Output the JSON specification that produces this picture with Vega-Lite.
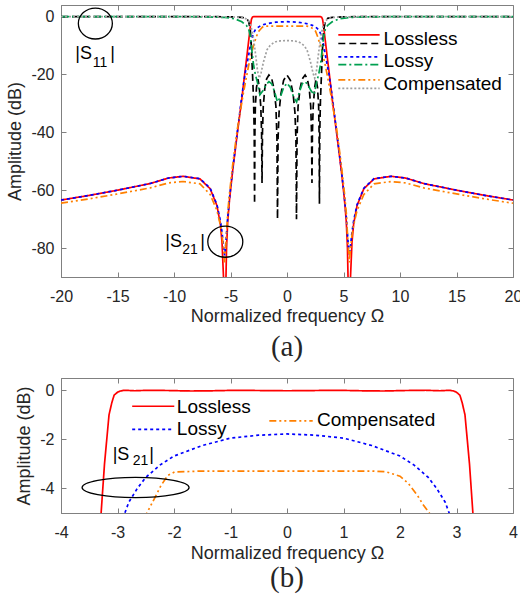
{
"$schema": "https://vega.github.io/schema/vega-lite/v6.json",
"background": "white",
"padding": {"left": 6, "top": 4, "right": 0, "bottom": 0},
"bounds": "flush",
"spacing": 101,
"config": {
  "view": {"stroke": "#808080", "strokeWidth": 1},
  "font": "Liberation Sans",
  "axis": {"grid": false, "domainColor": "#808080", "tickColor": "#808080", "labelColor": "#262626", "titleColor": "#262626", "labelFont": "Liberation Sans", "titleFont": "Liberation Sans", "labelFontSize": 16, "titleFontSize": 18, "titleFontWeight": "normal", "tickSize": -5, "labelFlush": false, "labelOverlap": false},
  "title": {"font": "Liberation Serif", "fontSize": 29, "fontWeight": "normal", "color": "#262626"}
},
"datasets": {
  "s21": [
    {"s":"Lossless S21","x":-20,"y":-63.4},{"s":"Lossless S21","x":-17.5,"y":-61.8},{"s":"Lossless S21","x":-15,"y":-60},{"s":"Lossless S21","x":-12.1,"y":-57.7},{"s":"Lossless S21","x":-10.5,"y":-55.8},{"s":"Lossless S21","x":-9.2,"y":-55.2},{"s":"Lossless S21","x":-7.7,"y":-56.1},{"s":"Lossless S21","x":-6.8,"y":-59.5},{"s":"Lossless S21","x":-6.2,"y":-65.3},{"s":"Lossless S21","x":-5.9,"y":-71.6},{"s":"Lossless S21","x":-5.75,"y":-78},{"s":"Lossless S21","x":-5.62,"y":-90},{"s":"Lossless S21","x":-5.55,"y":-110},{"s":"Lossless S21","x":-5.45,"y":-110},{"s":"Lossless S21","x":-5.4,"y":-90},{"s":"Lossless S21","x":-5.35,"y":-80},{"s":"Lossless S21","x":-5.25,"y":-71},{"s":"Lossless S21","x":-5.08,"y":-63},{"s":"Lossless S21","x":-4.8,"y":-53},{"s":"Lossless S21","x":-4.4,"y":-40.5},{"s":"Lossless S21","x":-4.0,"y":-28.5},{"s":"Lossless S21","x":-3.75,"y":-20},{"s":"Lossless S21","x":-3.5,"y":-12},{"s":"Lossless S21","x":-3.35,"y":-7},{"s":"Lossless S21","x":-3.29,"y":-5},{"s":"Lossless S21","x":-3.26,"y":-4},{"s":"Lossless S21","x":-3.23,"y":-3},{"s":"Lossless S21","x":-3.19,"y":-2},{"s":"Lossless S21","x":-3.15,"y":-1},{"s":"Lossless S21","x":-3.1,"y":-0.5},{"s":"Lossless S21","x":-3.06,"y":-0.2},{"s":"Lossless S21","x":-3.0,"y":-0.08},{"s":"Lossless S21","x":-2.95,"y":-0.03},{"s":"Lossless S21","x":-2.88,"y":0},{"s":"Lossless S21","x":-2.7,"y":-0.02},{"s":"Lossless S21","x":-2.45,"y":0},{"s":"Lossless S21","x":-2.1,"y":-0.01},{"s":"Lossless S21","x":-1.7,"y":-0.03},{"s":"Lossless S21","x":-1.3,"y":-0.02},{"s":"Lossless S21","x":-0.9,"y":0},{"s":"Lossless S21","x":-0.5,"y":-0.01},{"s":"Lossless S21","x":0,"y":-0.02},{"s":"Lossless S21","x":0.5,"y":-0.01},{"s":"Lossless S21","x":0.9,"y":0},{"s":"Lossless S21","x":1.3,"y":-0.02},{"s":"Lossless S21","x":1.7,"y":-0.03},{"s":"Lossless S21","x":2.1,"y":-0.01},{"s":"Lossless S21","x":2.45,"y":0},{"s":"Lossless S21","x":2.7,"y":-0.02},{"s":"Lossless S21","x":2.88,"y":0},{"s":"Lossless S21","x":2.95,"y":-0.03},{"s":"Lossless S21","x":3.0,"y":-0.08},{"s":"Lossless S21","x":3.06,"y":-0.2},{"s":"Lossless S21","x":3.1,"y":-0.5},{"s":"Lossless S21","x":3.15,"y":-1},{"s":"Lossless S21","x":3.19,"y":-2},{"s":"Lossless S21","x":3.23,"y":-3},{"s":"Lossless S21","x":3.26,"y":-4},{"s":"Lossless S21","x":3.29,"y":-5},{"s":"Lossless S21","x":3.35,"y":-7},{"s":"Lossless S21","x":3.5,"y":-12},{"s":"Lossless S21","x":3.75,"y":-20},{"s":"Lossless S21","x":4.0,"y":-28.5},{"s":"Lossless S21","x":4.4,"y":-40.5},{"s":"Lossless S21","x":4.8,"y":-53},{"s":"Lossless S21","x":5.08,"y":-63},{"s":"Lossless S21","x":5.25,"y":-71},{"s":"Lossless S21","x":5.35,"y":-80},{"s":"Lossless S21","x":5.4,"y":-90},{"s":"Lossless S21","x":5.45,"y":-110},{"s":"Lossless S21","x":5.55,"y":-110},{"s":"Lossless S21","x":5.62,"y":-90},{"s":"Lossless S21","x":5.75,"y":-78},{"s":"Lossless S21","x":5.9,"y":-71.6},{"s":"Lossless S21","x":6.2,"y":-65.3},{"s":"Lossless S21","x":6.8,"y":-59.5},{"s":"Lossless S21","x":7.7,"y":-56.1},{"s":"Lossless S21","x":9.2,"y":-55.2},{"s":"Lossless S21","x":10.5,"y":-55.8},{"s":"Lossless S21","x":12.1,"y":-57.7},{"s":"Lossless S21","x":15,"y":-60},{"s":"Lossless S21","x":17.5,"y":-61.8},{"s":"Lossless S21","x":20,"y":-63.4},

    {"s":"Lossy S21","x":-20,"y":-63.4},{"s":"Lossy S21","x":-17.5,"y":-61.8},{"s":"Lossy S21","x":-15,"y":-60},{"s":"Lossy S21","x":-12.1,"y":-57.7},{"s":"Lossy S21","x":-10.5,"y":-55.8},{"s":"Lossy S21","x":-9.2,"y":-55.2},{"s":"Lossy S21","x":-7.7,"y":-56},{"s":"Lossy S21","x":-6.8,"y":-59.3},{"s":"Lossy S21","x":-6.2,"y":-65},{"s":"Lossy S21","x":-5.9,"y":-70.5},{"s":"Lossy S21","x":-5.75,"y":-74.5},{"s":"Lossy S21","x":-5.6,"y":-80},{"s":"Lossy S21","x":-5.52,"y":-82.5},{"s":"Lossy S21","x":-5.45,"y":-80},{"s":"Lossy S21","x":-5.35,"y":-75},{"s":"Lossy S21","x":-5.25,"y":-69.5},{"s":"Lossy S21","x":-5.08,"y":-62.5},{"s":"Lossy S21","x":-4.8,"y":-52.5},{"s":"Lossy S21","x":-4.4,"y":-40},{"s":"Lossy S21","x":-4.0,"y":-27.5},{"s":"Lossy S21","x":-3.7,"y":-19.5},{"s":"Lossy S21","x":-3.4,"y":-13.5},{"s":"Lossy S21","x":-3.2,"y":-9},{"s":"Lossy S21","x":-3.05,"y":-6.8},{"s":"Lossy S21","x":-2.95,"y":-5.7},{"s":"Lossy S21","x":-2.87,"y":-5},{"s":"Lossy S21","x":-2.8,"y":-4.56},{"s":"Lossy S21","x":-2.65,"y":-4.0},{"s":"Lossy S21","x":-2.5,"y":-3.55},{"s":"Lossy S21","x":-2.25,"y":-3.05},{"s":"Lossy S21","x":-2.0,"y":-2.68},{"s":"Lossy S21","x":-1.5,"y":-2.25},{"s":"Lossy S21","x":-1.0,"y":-1.95},{"s":"Lossy S21","x":-0.5,"y":-1.83},{"s":"Lossy S21","x":0,"y":-1.78},{"s":"Lossy S21","x":0.5,"y":-1.83},{"s":"Lossy S21","x":1.0,"y":-1.95},{"s":"Lossy S21","x":1.5,"y":-2.25},{"s":"Lossy S21","x":2.0,"y":-2.68},{"s":"Lossy S21","x":2.25,"y":-3.05},{"s":"Lossy S21","x":2.5,"y":-3.55},{"s":"Lossy S21","x":2.65,"y":-4.0},{"s":"Lossy S21","x":2.8,"y":-4.56},{"s":"Lossy S21","x":2.87,"y":-5},{"s":"Lossy S21","x":2.95,"y":-5.7},{"s":"Lossy S21","x":3.05,"y":-6.8},{"s":"Lossy S21","x":3.2,"y":-9},{"s":"Lossy S21","x":3.4,"y":-13.5},{"s":"Lossy S21","x":3.7,"y":-19.5},{"s":"Lossy S21","x":4.0,"y":-27.5},{"s":"Lossy S21","x":4.4,"y":-40},{"s":"Lossy S21","x":4.8,"y":-52.5},{"s":"Lossy S21","x":5.08,"y":-62.5},{"s":"Lossy S21","x":5.25,"y":-69.5},{"s":"Lossy S21","x":5.35,"y":-75},{"s":"Lossy S21","x":5.45,"y":-80},{"s":"Lossy S21","x":5.52,"y":-82.5},{"s":"Lossy S21","x":5.6,"y":-80},{"s":"Lossy S21","x":5.75,"y":-74.5},{"s":"Lossy S21","x":5.9,"y":-70.5},{"s":"Lossy S21","x":6.2,"y":-65},{"s":"Lossy S21","x":6.8,"y":-59.3},{"s":"Lossy S21","x":7.7,"y":-56},{"s":"Lossy S21","x":9.2,"y":-55.2},{"s":"Lossy S21","x":10.5,"y":-55.8},{"s":"Lossy S21","x":12.1,"y":-57.7},{"s":"Lossy S21","x":15,"y":-60},{"s":"Lossy S21","x":17.5,"y":-61.8},{"s":"Lossy S21","x":20,"y":-63.4},

    {"s":"Compensated S21","x":-20,"y":-64.5},{"s":"Compensated S21","x":-17.5,"y":-63},{"s":"Compensated S21","x":-15,"y":-61.3},{"s":"Compensated S21","x":-12.1,"y":-59.2},{"s":"Compensated S21","x":-10.5,"y":-57.5},{"s":"Compensated S21","x":-9.2,"y":-57},{"s":"Compensated S21","x":-7.7,"y":-57.8},{"s":"Compensated S21","x":-6.8,"y":-61.5},{"s":"Compensated S21","x":-6.2,"y":-67},{"s":"Compensated S21","x":-5.9,"y":-72},{"s":"Compensated S21","x":-5.75,"y":-75.5},{"s":"Compensated S21","x":-5.6,"y":-81},{"s":"Compensated S21","x":-5.52,"y":-85},{"s":"Compensated S21","x":-5.45,"y":-81},{"s":"Compensated S21","x":-5.35,"y":-75},{"s":"Compensated S21","x":-5.25,"y":-68},{"s":"Compensated S21","x":-5.1,"y":-61.5},{"s":"Compensated S21","x":-4.8,"y":-51},{"s":"Compensated S21","x":-4.4,"y":-39},{"s":"Compensated S21","x":-3.84,"y":-26},{"s":"Compensated S21","x":-3.4,"y":-17},{"s":"Compensated S21","x":-3.0,"y":-10.5},{"s":"Compensated S21","x":-2.7,"y":-6.8},{"s":"Compensated S21","x":-2.48,"y":-5},{"s":"Compensated S21","x":-2.38,"y":-4.56},{"s":"Compensated S21","x":-2.23,"y":-3.88},{"s":"Compensated S21","x":-2.11,"y":-3.47},{"s":"Compensated S21","x":-1.99,"y":-3.33},{"s":"Compensated S21","x":-1.5,"y":-3.29},{"s":"Compensated S21","x":-0.5,"y":-3.29},{"s":"Compensated S21","x":0,"y":-3.29},{"s":"Compensated S21","x":0.5,"y":-3.29},{"s":"Compensated S21","x":1.0,"y":-3.29},{"s":"Compensated S21","x":1.5,"y":-3.29},{"s":"Compensated S21","x":1.75,"y":-3.32},{"s":"Compensated S21","x":2.0,"y":-3.5},{"s":"Compensated S21","x":2.15,"y":-3.8},{"s":"Compensated S21","x":2.31,"y":-4.29},{"s":"Compensated S21","x":2.42,"y":-4.7},{"s":"Compensated S21","x":2.52,"y":-5},{"s":"Compensated S21","x":2.7,"y":-6.8},{"s":"Compensated S21","x":3.0,"y":-10.5},{"s":"Compensated S21","x":3.4,"y":-17},{"s":"Compensated S21","x":3.84,"y":-26},{"s":"Compensated S21","x":4.4,"y":-39},{"s":"Compensated S21","x":4.8,"y":-51},{"s":"Compensated S21","x":5.1,"y":-61.5},{"s":"Compensated S21","x":5.25,"y":-68},{"s":"Compensated S21","x":5.35,"y":-75},{"s":"Compensated S21","x":5.45,"y":-81},{"s":"Compensated S21","x":5.52,"y":-85},{"s":"Compensated S21","x":5.6,"y":-81},{"s":"Compensated S21","x":5.75,"y":-75.5},{"s":"Compensated S21","x":5.9,"y":-72},{"s":"Compensated S21","x":6.2,"y":-67},{"s":"Compensated S21","x":6.8,"y":-61.5},{"s":"Compensated S21","x":7.7,"y":-57.8},{"s":"Compensated S21","x":9.2,"y":-57},{"s":"Compensated S21","x":10.5,"y":-57.5},{"s":"Compensated S21","x":12.1,"y":-59.2},{"s":"Compensated S21","x":15,"y":-61.3},{"s":"Compensated S21","x":17.5,"y":-63},{"s":"Compensated S21","x":20,"y":-64.5}
  ],
  "s11": [
    {"s":"Lossless S11","x":-20,"y":0},{"s":"Lossless S11","x":-10,"y":0},{"s":"Lossless S11","x":-7,"y":-0.02},{"s":"Lossless S11","x":-5,"y":-0.08},{"s":"Lossless S11","x":-4,"y":-0.25},{"s":"Lossless S11","x":-3.6,"y":-0.6},{"s":"Lossless S11","x":-3.4,"y":-1.6},{"s":"Lossless S11","x":-3.25,"y":-4.4},{"s":"Lossless S11","x":-3.15,"y":-10.5},{"s":"Lossless S11","x":-3.05,"y":-20},{"s":"Lossless S11","x":-2.96,"y":-29},{"s":"Lossless S11","x":-2.9,"y":-40},{"s":"Lossless S11","x":-2.87,"y":-64.7},{"s":"Lossless S11","x":-2.84,"y":-40},{"s":"Lossless S11","x":-2.8,"y":-31},{"s":"Lossless S11","x":-2.7,"y":-24.5},{"s":"Lossless S11","x":-2.57,"y":-21.6},{"s":"Lossless S11","x":-2.45,"y":-24.5},{"s":"Lossless S11","x":-2.32,"y":-31},{"s":"Lossless S11","x":-2.25,"y":-40},{"s":"Lossless S11","x":-2.21,"y":-57.5},{"s":"Lossless S11","x":-2.17,"y":-40},{"s":"Lossless S11","x":-2.1,"y":-31},{"s":"Lossless S11","x":-1.97,"y":-25},{"s":"Lossless S11","x":-1.8,"y":-21.5},{"s":"Lossless S11","x":-1.6,"y":-20.2},{"s":"Lossless S11","x":-1.35,"y":-21.5},{"s":"Lossless S11","x":-1.15,"y":-25},{"s":"Lossless S11","x":-0.98,"y":-31},{"s":"Lossless S11","x":-0.89,"y":-42},{"s":"Lossless S11","x":-0.84,"y":-70},{"s":"Lossless S11","x":-0.79,"y":-42},{"s":"Lossless S11","x":-0.7,"y":-33},{"s":"Lossless S11","x":-0.55,"y":-27},{"s":"Lossless S11","x":-0.3,"y":-22},{"s":"Lossless S11","x":0,"y":-20.2},{"s":"Lossless S11","x":0.3,"y":-22},{"s":"Lossless S11","x":0.55,"y":-27},{"s":"Lossless S11","x":0.7,"y":-33},{"s":"Lossless S11","x":0.79,"y":-42},{"s":"Lossless S11","x":0.84,"y":-70},{"s":"Lossless S11","x":0.89,"y":-42},{"s":"Lossless S11","x":0.98,"y":-31},{"s":"Lossless S11","x":1.15,"y":-25},{"s":"Lossless S11","x":1.35,"y":-21.5},{"s":"Lossless S11","x":1.6,"y":-20.2},{"s":"Lossless S11","x":1.8,"y":-21.5},{"s":"Lossless S11","x":1.97,"y":-25},{"s":"Lossless S11","x":2.1,"y":-31},{"s":"Lossless S11","x":2.17,"y":-40},{"s":"Lossless S11","x":2.21,"y":-57.5},{"s":"Lossless S11","x":2.25,"y":-40},{"s":"Lossless S11","x":2.32,"y":-31},{"s":"Lossless S11","x":2.45,"y":-24.5},{"s":"Lossless S11","x":2.57,"y":-21.6},{"s":"Lossless S11","x":2.7,"y":-24.5},{"s":"Lossless S11","x":2.8,"y":-31},{"s":"Lossless S11","x":2.84,"y":-40},{"s":"Lossless S11","x":2.87,"y":-64.7},{"s":"Lossless S11","x":2.9,"y":-40},{"s":"Lossless S11","x":2.96,"y":-29},{"s":"Lossless S11","x":3.05,"y":-20},{"s":"Lossless S11","x":3.15,"y":-10.5},{"s":"Lossless S11","x":3.25,"y":-4.4},{"s":"Lossless S11","x":3.4,"y":-1.6},{"s":"Lossless S11","x":3.6,"y":-0.6},{"s":"Lossless S11","x":4,"y":-0.25},{"s":"Lossless S11","x":5,"y":-0.08},{"s":"Lossless S11","x":7,"y":-0.02},{"s":"Lossless S11","x":10,"y":0},{"s":"Lossless S11","x":20,"y":0},

    {"s":"Lossy S11","x":-20,"y":0},{"s":"Lossy S11","x":-10,"y":0},{"s":"Lossy S11","x":-7,"y":-0.1},{"s":"Lossy S11","x":-5.5,"y":-0.3},{"s":"Lossy S11","x":-4.6,"y":-0.8},{"s":"Lossy S11","x":-4,"y":-1.8},{"s":"Lossy S11","x":-3.6,"y":-3},{"s":"Lossy S11","x":-3.4,"y":-4.2},{"s":"Lossy S11","x":-3.25,"y":-6.7},{"s":"Lossy S11","x":-3.1,"y":-12},{"s":"Lossy S11","x":-2.95,"y":-17},{"s":"Lossy S11","x":-2.8,"y":-20},{"s":"Lossy S11","x":-2.6,"y":-23},{"s":"Lossy S11","x":-2.4,"y":-27},{"s":"Lossy S11","x":-2.1,"y":-25.5},{"s":"Lossy S11","x":-1.85,"y":-23.5},{"s":"Lossy S11","x":-1.6,"y":-22.5},{"s":"Lossy S11","x":-1.35,"y":-23.2},{"s":"Lossy S11","x":-1.1,"y":-26},{"s":"Lossy S11","x":-0.85,"y":-29.5},{"s":"Lossy S11","x":-0.6,"y":-28},{"s":"Lossy S11","x":-0.3,"y":-24.5},{"s":"Lossy S11","x":0,"y":-23},{"s":"Lossy S11","x":0.3,"y":-24.5},{"s":"Lossy S11","x":0.6,"y":-28},{"s":"Lossy S11","x":0.85,"y":-29.5},{"s":"Lossy S11","x":1.1,"y":-26},{"s":"Lossy S11","x":1.35,"y":-23.2},{"s":"Lossy S11","x":1.6,"y":-22.5},{"s":"Lossy S11","x":1.85,"y":-23.5},{"s":"Lossy S11","x":2.1,"y":-25.5},{"s":"Lossy S11","x":2.4,"y":-27},{"s":"Lossy S11","x":2.6,"y":-23},{"s":"Lossy S11","x":2.8,"y":-20},{"s":"Lossy S11","x":2.95,"y":-17},{"s":"Lossy S11","x":3.1,"y":-12},{"s":"Lossy S11","x":3.25,"y":-6.7},{"s":"Lossy S11","x":3.4,"y":-4.2},{"s":"Lossy S11","x":3.6,"y":-3},{"s":"Lossy S11","x":4,"y":-1.8},{"s":"Lossy S11","x":4.6,"y":-0.8},{"s":"Lossy S11","x":5.5,"y":-0.3},{"s":"Lossy S11","x":7,"y":-0.1},{"s":"Lossy S11","x":10,"y":0},{"s":"Lossy S11","x":20,"y":0},

    {"s":"Compensated S11","x":-20,"y":0},{"s":"Compensated S11","x":-7,"y":0},{"s":"Compensated S11","x":-5,"y":-0.1},{"s":"Compensated S11","x":-4,"y":-0.3},{"s":"Compensated S11","x":-3.6,"y":-0.8},{"s":"Compensated S11","x":-3.4,"y":-1.6},{"s":"Compensated S11","x":-3.2,"y":-3.2},{"s":"Compensated S11","x":-3.0,"y":-6.5},{"s":"Compensated S11","x":-2.8,"y":-12.5},{"s":"Compensated S11","x":-2.6,"y":-19},{"s":"Compensated S11","x":-2.45,"y":-21.3},{"s":"Compensated S11","x":-2.3,"y":-19.5},{"s":"Compensated S11","x":-2.07,"y":-15.5},{"s":"Compensated S11","x":-1.77,"y":-11.5},{"s":"Compensated S11","x":-1.5,"y":-10},{"s":"Compensated S11","x":-1.2,"y":-9.1},{"s":"Compensated S11","x":-1.0,"y":-8.7},{"s":"Compensated S11","x":-0.6,"y":-8.4},{"s":"Compensated S11","x":0,"y":-8.3},{"s":"Compensated S11","x":0.6,"y":-8.4},{"s":"Compensated S11","x":1.0,"y":-8.7},{"s":"Compensated S11","x":1.2,"y":-9.1},{"s":"Compensated S11","x":1.5,"y":-10},{"s":"Compensated S11","x":1.77,"y":-11.5},{"s":"Compensated S11","x":2.07,"y":-15.5},{"s":"Compensated S11","x":2.3,"y":-19.5},{"s":"Compensated S11","x":2.45,"y":-21.3},{"s":"Compensated S11","x":2.6,"y":-19},{"s":"Compensated S11","x":2.8,"y":-12.5},{"s":"Compensated S11","x":3.0,"y":-6.5},{"s":"Compensated S11","x":3.2,"y":-3.2},{"s":"Compensated S11","x":3.4,"y":-1.6},{"s":"Compensated S11","x":3.6,"y":-0.8},{"s":"Compensated S11","x":4,"y":-0.3},{"s":"Compensated S11","x":5,"y":-0.1},{"s":"Compensated S11","x":7,"y":0},{"s":"Compensated S11","x":20,"y":0}
  ],
  "legA": [
    {"s":"Lossless S21","x1":4.54,"x2":8.2,"y":-6.3},
    {"s":"Lossless S11","x1":4.54,"x2":8.2,"y":-9.3},
    {"s":"Lossy S21","x1":4.54,"x2":8.2,"y":-13.9},
    {"s":"Lossy S11","x1":4.54,"x2":8.2,"y":-16.6},
    {"s":"Compensated S21","x1":4.54,"x2":8.2,"y":-21.9},
    {"s":"Compensated S11","x1":4.54,"x2":8.2,"y":-24.8}
  ],
  "legAtext": [
    {"t":"Lossless","x":8.55,"y":-7.8},
    {"t":"Lossy","x":8.55,"y":-15.2},
    {"t":"Compensated","x":8.55,"y":-23.3}
  ],
  "legB": [
    {"s":"Lossless S21","x1":-2.74,"x2":-1.995,"y":-0.65},
    {"s":"Lossy S21","x1":-2.74,"x2":-2.02,"y":-1.59},
    {"s":"Compensated S21","x1":-0.313,"x2":0.455,"y":-1.25}
  ],
  "legBtext": [
    {"t":"Lossless","x":-1.95,"y":-0.68},
    {"t":"Lossy","x":-1.95,"y":-1.59},
    {"t":"Compensated","x":0.53,"y":-1.22}
  ],
  "annA": [
    {"t":"|S","x":-18.73,"y":-13.0},
    {"t":"|","x":-15.64,"y":-13.0},
    {"t":"|S","x":-10.77,"y":-77.9},
    {"t":"|","x":-7.67,"y":-77.9}
  ],
  "subA": [
    {"t":"11","x":-17.2,"y":-15.9},
    {"t":"21","x":-9.28,"y":-80.5}
  ],
  "annB": [
    {"t":"|S","x":-3.085,"y":-2.62},
    {"t":"|","x":-2.44,"y":-2.62}
  ],
  "subB": [
    {"t":"21","x":-2.73,"y":-2.9}
  ]
},
"vconcat": [
  {
    "width": 452, "height": 272,
    "title": {"text": "(a)", "orient": "bottom", "frame": "group", "anchor": "middle", "offset": 8},
    "resolve": {"axis": {"x": "independent", "y": "independent"}},
    "layer": [
      {
        "data": {"name": "s21"},
        "mark": {"type": "line", "clip": true, "strokeWidth": 1.7},
        "encoding": {
          "x": {"field": "x", "type": "quantitative", "scale": {"domain": [-20, 20], "nice": false}, "title": "Normalized frequency Ω",
                "axis": {"values": [-20,-15,-10,-5,0,5,10,15,20], "labelPadding": 16, "titlePadding": 3, "labelExpr": "replace(datum.label, '−', '-')"}},
          "y": {"field": "y", "type": "quantitative", "scale": {"domain": [-90, 4], "nice": false, "zero": false}, "title": "Amplitude (dB)",
                "axis": {"values": [-80,-60,-40,-20,0], "labelPadding": 12, "titlePadding": 6, "labelExpr": "replace(datum.label, '−', '-')"}},
          "color": {"field": "s", "type": "nominal", "legend": null, "scale": {"domain": ["Lossless S21","Lossless S11","Lossy S21","Lossy S11","Compensated S21","Compensated S11"], "range": ["#ff0000","#000000","#0000ff","#00a050","#ff8000","#a0a0a0"]}},
          "strokeDash": {"field": "s", "type": "nominal", "legend": null, "scale": {"domain": ["Lossless S21","Lossless S11","Lossy S21","Lossy S11","Compensated S21","Compensated S11"], "range": [[1,0],[7,4],[3,3],[8,3,2,3],[7,3,2,3,2,3],[2,2]]}}
        }
      },
      {
        "data": {"name": "s11"},
        "mark": {"type": "line", "clip": true, "strokeWidth": 1.7},
        "encoding": {
          "x": {"field": "x", "type": "quantitative", "axis": null},
          "y": {"field": "y", "type": "quantitative", "axis": null},
          "color": {"field": "s", "type": "nominal", "legend": null},
          "strokeDash": {"field": "s", "type": "nominal", "legend": null}
        }
      },
      {
        "data": {"name": "legA"},
        "mark": {"type": "rule", "strokeWidth": 1.7},
        "encoding": {
          "x": {"field": "x1", "type": "quantitative", "axis": null},
          "x2": {"field": "x2"},
          "y": {"field": "y", "type": "quantitative", "axis": null},
          "color": {"field": "s", "type": "nominal", "legend": null},
          "strokeDash": {"field": "s", "type": "nominal", "legend": null}
        }
      },
      {
        "data": {"name": "legAtext"},
        "mark": {"type": "text", "align": "left", "baseline": "middle", "fontSize": 19, "font": "Liberation Sans", "color": "#000000"},
        "encoding": {
          "x": {"field": "x", "type": "quantitative", "axis": null},
          "y": {"field": "y", "type": "quantitative", "axis": null},
          "text": {"field": "t"}
        }
      },
      {
        "data": {"name": "annA"},
        "mark": {"type": "text", "align": "left", "baseline": "middle", "fontSize": 18, "font": "Liberation Sans", "color": "#000000"},
        "encoding": {
          "x": {"field": "x", "type": "quantitative", "axis": null},
          "y": {"field": "y", "type": "quantitative", "axis": null},
          "text": {"field": "t"}
        }
      },
      {
        "data": {"name": "subA"},
        "mark": {"type": "text", "align": "left", "baseline": "middle", "fontSize": 14, "font": "Liberation Sans", "color": "#000000"},
        "encoding": {
          "x": {"field": "x", "type": "quantitative", "axis": null},
          "y": {"field": "y", "type": "quantitative", "axis": null},
          "text": {"field": "t"}
        }
      },
      {
        "data": {"values": [{"x": -16.96, "y": -2.4}]},
        "mark": {"type": "point", "shape": "M-1,0A1,0.91,0,1,0,1,0A1,0.91,0,1,0,-1,0", "size": 1156, "filled": false, "stroke": "#000000", "strokeWidth": 1.3, "opacity": 1},
        "encoding": {
          "x": {"field": "x", "type": "quantitative", "axis": null},
          "y": {"field": "y", "type": "quantitative", "axis": null}
        }
      },
      {
        "data": {"values": [{"x": -5.46, "y": -77.8}]},
        "mark": {"type": "point", "shape": "M-1,0A1,0.89,0,1,0,1,0A1,0.89,0,1,0,-1,0", "size": 1225, "filled": false, "stroke": "#000000", "strokeWidth": 1.3, "opacity": 1},
        "encoding": {
          "x": {"field": "x", "type": "quantitative", "axis": {"orient": "top", "labels": false, "title": null, "domain": false, "values": [-20,-15,-10,-5,0,5,10,15,20]}},
          "y": {"field": "y", "type": "quantitative", "axis": {"orient": "right", "labels": false, "title": null, "domain": false, "values": [-80,-60,-40,-20,0]}}
        }
      }
    ]
  },
  {
    "width": 452, "height": 135,
    "title": {"text": "(b)", "orient": "bottom", "frame": "group", "anchor": "middle", "offset": 2},
    "resolve": {"axis": {"x": "independent", "y": "independent"}},
    "layer": [
      {
        "data": {"name": "s21"},
        "mark": {"type": "line", "clip": true, "strokeWidth": 1.7},
        "encoding": {
          "x": {"field": "x", "type": "quantitative", "scale": {"domain": [-4, 4], "nice": false}, "title": "Normalized frequency Ω",
                "axis": {"values": [-4,-3,-2,-1,0,1,2,3,4], "labelPadding": 16, "titlePadding": 4, "labelExpr": "replace(datum.label, '−', '-')"}},
          "y": {"field": "y", "type": "quantitative", "scale": {"domain": [-5, 0.5], "nice": false, "zero": false}, "title": "Amplitude (dB)",
                "axis": {"values": [-4,-2,0], "labelPadding": 12, "titlePadding": 6, "labelExpr": "replace(datum.label, '−', '-')"}},
          "color": {"field": "s", "type": "nominal", "legend": null, "scale": {"domain": ["Lossless S21","Lossless S11","Lossy S21","Lossy S11","Compensated S21","Compensated S11"], "range": ["#ff0000","#000000","#0000ff","#00a050","#ff8000","#a0a0a0"]}},
          "strokeDash": {"field": "s", "type": "nominal", "legend": null, "scale": {"domain": ["Lossless S21","Lossless S11","Lossy S21","Lossy S11","Compensated S21","Compensated S11"], "range": [[1,0],[7,4],[3,3],[8,3,2,3],[7,3,2,3,2,3],[2,2]]}}
        }
      },
      {
        "data": {"name": "legB"},
        "mark": {"type": "rule", "strokeWidth": 1.7},
        "encoding": {
          "x": {"field": "x1", "type": "quantitative", "axis": null},
          "x2": {"field": "x2"},
          "y": {"field": "y", "type": "quantitative", "axis": null},
          "color": {"field": "s", "type": "nominal", "legend": null},
          "strokeDash": {"field": "s", "type": "nominal", "legend": null}
        }
      },
      {
        "data": {"name": "legBtext"},
        "mark": {"type": "text", "align": "left", "baseline": "middle", "fontSize": 19, "font": "Liberation Sans", "color": "#000000"},
        "encoding": {
          "x": {"field": "x", "type": "quantitative", "axis": null},
          "y": {"field": "y", "type": "quantitative", "axis": null},
          "text": {"field": "t"}
        }
      },
      {
        "data": {"name": "annB"},
        "mark": {"type": "text", "align": "left", "baseline": "middle", "fontSize": 18, "font": "Liberation Sans", "color": "#000000"},
        "encoding": {
          "x": {"field": "x", "type": "quantitative", "axis": null},
          "y": {"field": "y", "type": "quantitative", "axis": null},
          "text": {"field": "t"}
        }
      },
      {
        "data": {"name": "subB"},
        "mark": {"type": "text", "align": "left", "baseline": "middle", "fontSize": 14, "font": "Liberation Sans", "color": "#000000"},
        "encoding": {
          "x": {"field": "x", "type": "quantitative", "axis": null},
          "y": {"field": "y", "type": "quantitative", "axis": null},
          "text": {"field": "t"}
        }
      },
      {
        "data": {"values": [{"x": -2.68, "y": -3.96}]},
        "mark": {"type": "point", "shape": "M-1,0A1,0.19,0,1,0,1,0A1,0.19,0,1,0,-1,0", "size": 11449, "filled": false, "stroke": "#000000", "strokeWidth": 1.3, "opacity": 1},
        "encoding": {
          "x": {"field": "x", "type": "quantitative", "axis": {"orient": "top", "labels": false, "title": null, "domain": false, "values": [-4,-3,-2,-1,0,1,2,3,4]}},
          "y": {"field": "y", "type": "quantitative", "axis": {"orient": "right", "labels": false, "title": null, "domain": false, "values": [-4,-2,0]}}
        }
      }
    ]
  }
]
}
